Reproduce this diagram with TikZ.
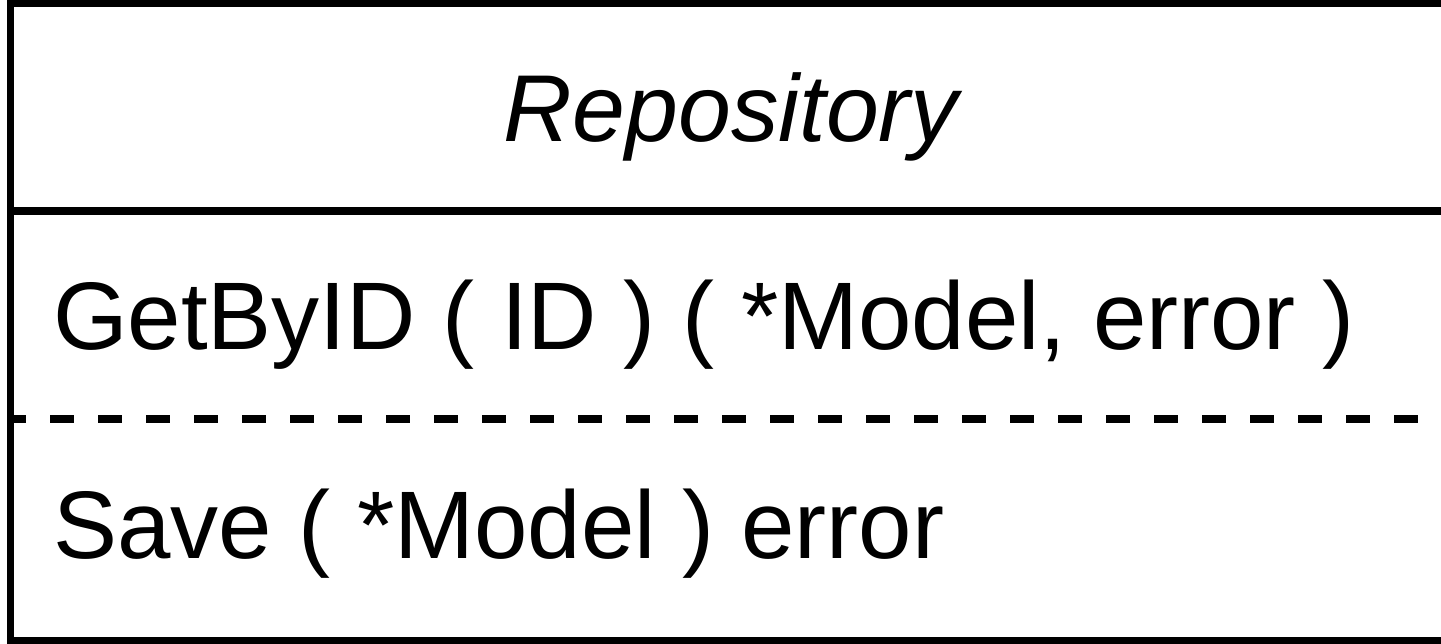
\documentclass[tikz,border=0pt]{standalone}
\usepackage{fontspec}
\setmainfont{Liberation Sans}
\tikzset{
  frame/.style={draw=black, line width=7.5pt},
  divider/.style={draw=black, line width=8pt},
  sep/.style={draw=black, line width=8pt, dash pattern=on 24pt off 24pt, dash phase=5pt},
  title/.style={font=\fontsize{95}{110}\selectfont\itshape, inner sep=0pt, anchor=base},
  member/.style={font=\fontsize{96}{110}\selectfont, inner sep=0pt, anchor=base west},
}
\begin{document}
\begin{tikzpicture}[x=1pt, y=-1pt]
  \useasboundingbox (0,0) rectangle (1441,644);
  \clip (0,0) rectangle (1441,644);
  % class box (its right side runs past the page edge)
  \coordinate (tl) at (10.5,3.5);
  \coordinate (br) at (1520,641);
  % method separator (dashed), drawn first so the frame covers its start
  \coordinate (sepL) at (7,419);
  \coordinate (sepR) at (1520,419);
  \draw[sep] (sepL) -- (sepR);
  % name compartment divider
  \coordinate (divL) at (10.5,211);
  \coordinate (divR) at (1520,211);
  \draw[divider] (divL) -- (divR);
  \draw[frame] (tl) rectangle (br);
  % texts
  \node[title] (name) at (731,142) {Repository};
  \node[member] (getbyid) at (53,350) {GetByID ( ID ) ( *Model, error )};
  \node[member] (save) at (53,558) {Save ( *Model ) error};
\end{tikzpicture}
\end{document}
